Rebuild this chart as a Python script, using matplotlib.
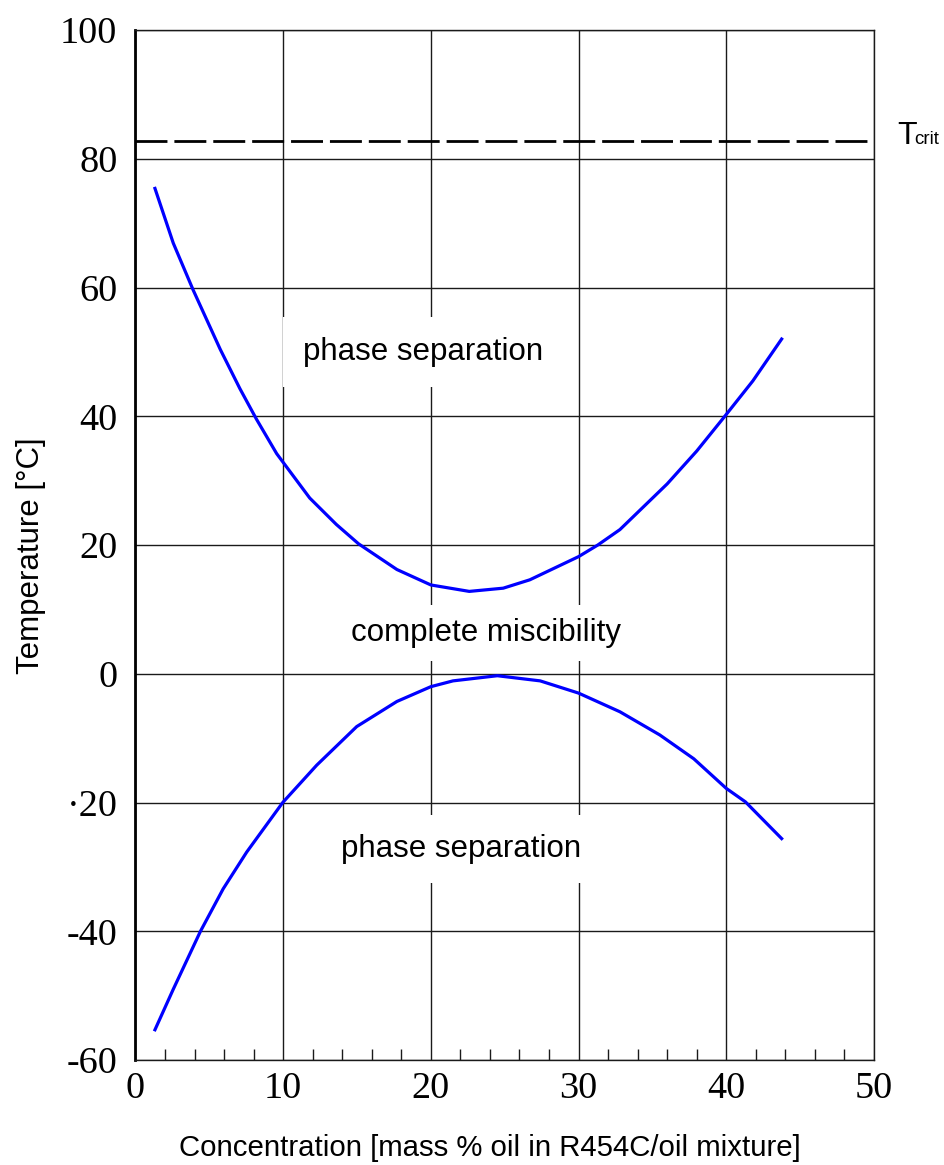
"""Miscibility gap of R454C / oil mixture."""

import matplotlib.pyplot as plt
from matplotlib.ticker import MultipleLocator

# upper miscibility limit
x_upper = [1.32, 2.56, 3.91, 5.74, 7.07, 8.18, 9.56, 11.8, 13.6, 15.1, 17.7, 20.0,
           22.6, 24.9, 26.7, 30.0, 31.3, 32.8, 36.0, 38.0, 39.9, 41.8, 43.75]
t_upper = [75.4, 66.9, 59.6, 50.4, 44.3, 39.6, 34.2, 27.3, 23.2, 20.2, 16.2, 13.8,
           12.8, 13.3, 14.6, 18.2, 20.0, 22.4, 29.5, 34.6, 40.0, 45.5, 52.0]

# lower miscibility limit
x_lower = [1.32, 2.56, 4.4, 5.94, 7.53, 9.97, 12.27, 14.98, 17.7, 20.0, 21.5,
           24.5, 27.4, 30.0, 32.8, 35.5, 37.8, 40.0, 41.3, 43.75]
t_lower = [-55.3, -49.0, -40.0, -33.4, -27.7, -20.0, -14.2, -8.2, -4.3, -2.0, -1.1,
           -0.3, -1.1, -3.0, -5.9, -9.5, -13.2, -17.8, -19.9, -25.6]

T_crit = 82.7

y_ticks = [-60, -40, -20, 0, 20, 40, 60, 80, 100]
y_ticklabels = ['-60', '-40', '\u00b720', '0', '20', '40', '60', '80', '100']
x_ticks = [0, 10, 20, 30, 40, 50]

regions = [('phase separation', 19.5, 50.0, 0.65),
           ('complete miscibility', 23.7, 6.3, 0.42),
           ('phase separation', 22.07, -27.2, 0.62)]

serif = ['Liberation Serif', 'DejaVu Serif']
sans = ['Liberation Sans', 'DejaVu Sans']

fig = plt.figure(figsize=(9.44, 11.65), dpi=100)
ax = fig.add_axes([0.1435, 0.0901, 0.7823, 0.8841])

ax.set_xlim(0, 50)
ax.set_ylim(-60, 100)
ax.set_axisbelow(True)
ax.grid(True, which='major', color='#1a1a1a', lw=1.0)

ax.set_xticks(x_ticks)
ax.set_yticks(y_ticks)
ax.set_yticklabels(y_ticklabels)
ax.xaxis.set_minor_locator(MultipleLocator(2))
ax.tick_params(axis='both', which='major', length=0, labelsize=27.5)
ax.tick_params(axis='y', which='major', pad=13)
ax.tick_params(axis='x', which='major', pad=8)
ax.tick_params(axis='x', which='minor', direction='in', length=8, width=1.0, color='#1a1a1a')
ax.tick_params(axis='y', which='minor', length=0)
for lab in ax.get_xticklabels() + ax.get_yticklabels():
    lab.set_family(serif)

for side in ['top', 'right', 'bottom']:
    ax.spines[side].set_linewidth(1.0)
    ax.spines[side].set_color('#1a1a1a')
ax.spines['left'].set_linewidth(2.0)
ax.spines['left'].set_color('black')

ax.plot(x_upper, t_upper, color='#0000ff', lw=2.3, zorder=5)
ax.plot(x_lower, t_lower, color='#0000ff', lw=2.3, zorder=5)

ax.axhline(T_crit, color='black', lw=2.0, dashes=(11.5, 2.5), zorder=4)
ax.text(51.55, T_crit - 0.4, 'T', fontsize=23, family=sans, ha='left', va='baseline', clip_on=False)
ax.text(52.75, T_crit - 0.4, 'crit', fontsize=13.5, family=sans, ha='left', va='baseline', clip_on=False)

for label, xc, yc, pad in regions:
    ax.text(xc, yc, label, fontsize=22.5, family=sans, ha='center', va='center', zorder=3,
            bbox=dict(boxstyle=f'square,pad={pad}', fc='white', ec='none'))

ax.set_xlabel('Concentration [mass % oil in R454C/oil mixture]', fontsize=21.2, family=sans, va='center')
ax.set_ylabel('Temperature [\u00b0C]', fontsize=22.5, family=sans, va='center')
ax.xaxis.set_label_coords(0.48, -0.0854)
ax.yaxis.set_label_coords(-0.141, 0.49)

fig.savefig('out.png', dpi=100)
